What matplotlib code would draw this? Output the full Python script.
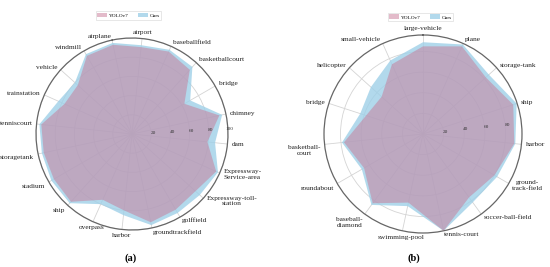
import numpy as np
import matplotlib
matplotlib.use("Agg")
import matplotlib.pyplot as plt
from matplotlib.patches import Patch

plt.rcParams['font.family'] = ['Liberation Serif', 'DejaVu Serif']

# ---------------- data ----------------
cats_a = ['airplane', 'airport', 'baseballfield', 'basketballcourt', 'bridge',
          'chimney', 'dam', 'Expressway-\nService-area', 'Expressway-toll-\nstation',
          'golffield', 'groundtrackfield', 'harbor', 'overpass', 'ship', 'stadium',
          'storagetank', 'tenniscourt', 'trainstation', 'vehicle', 'windmill']
yolo_a = [95, 91, 94, 90, 63, 93, 79, 96, 89, 91, 94, 80, 75, 95, 94, 94, 95, 77, 76, 94]
ours_a = [97, 93, 96, 94, 70, 96, 87, 98, 95, 95, 97, 85, 80, 97, 97, 96, 97, 84, 80, 96]

cats_b = ['large-vehicle', 'plane', 'storage-tank', 'ship', 'harbor',
          'ground-\ntrack-field', 'soccer-ball-field', 'tennis-court', 'swimming-pool',
          'baseball-\ndiamond', 'roundabout', 'basketball-\ncourt', 'bridge',
          'helicopter', 'small-vehicle']
yolo_b = [85, 93, 82, 92, 89, 80, 76, 96, 68, 83, 66, 77, 58, 54, 74]
ours_b = [89, 95, 86, 95.5, 90, 83, 82, 96, 71.5, 85, 68.5, 79, 64, 68, 78]

rticks_a = [20, 40, 60, 80, 100]
rticks_b = [20, 40, 60, 80]
series_names = ['YOLOv7', 'Ours']
panel_labels = ['(a)', '(b)']

# ---------------- style ----------------
PINK = '#c87896'
BLUE = '#9fd0e8'
PINK_A = 0.5
BLUE_A = 0.8
DPI = 100
fig = plt.figure(figsize=(5.5, 2.67), dpi=DPI)


def radar(rect, cats, yolo, ours, rmax, rticks, offset_deg, rlabel_deg):
    ax = fig.add_axes(rect, projection='polar')
    n = len(cats)
    ang = np.arange(n) * 2 * np.pi / n
    ax.set_theta_offset(np.deg2rad(offset_deg))
    ax.set_theta_direction(-1)
    ax.set_ylim(0, rmax)
    angc = np.append(ang, ang[0])
    o = np.append(ours, ours[0])
    y = np.append(yolo, yolo[0])
    ax.fill(angc, o, color=BLUE, alpha=BLUE_A, lw=0, zorder=2)
    ax.fill(angc, y, color=PINK, alpha=PINK_A, lw=0, zorder=3)
    ax.set_xticks(ang)
    ax.set_xticklabels([])
    ax.set_yticks(rticks)
    ax.set_yticklabels([])
    th = np.deg2rad(rlabel_deg)
    for t in rticks:
        ax.text(th, t + rmax * 0.02, str(t), fontsize=3.8, color='#333333',
                ha='center', va='center', zorder=10)
    ax.grid(True, color='#d4d4d4', lw=0.6)
    ax.spines['polar'].set_color('#666666')
    ax.spines['polar'].set_linewidth(0.9)
    return ax, ang


def place_labels(ax, ang, cats, rmax, pad_px=4.0, fs=5.3):
    fig.canvas.draw()
    c0 = ax.transData.transform((0, 0))
    for a, lab in zip(ang, cats):
        p = ax.transData.transform((a, rmax))
        d = p - c0
        u = d / np.hypot(*d)
        cs, sn = u
        if sn < -0.9 and cs <= 0.05:
            ha, va = 'center', 'top'
        elif abs(cs) < 0.15:
            ha, va = 'center', ('bottom' if sn > 0 else 'top')
        else:
            ha = 'left' if cs > 0 else 'right'
            va = 'top' if (cs < 0 and sn < -0.1) else 'center'
        off = u * pad_px * 72 / DPI
        ax.annotate(lab, xy=(a, rmax), xycoords='data', xytext=(off[0], off[1]),
                    textcoords='offset points', fontsize=fs, ha=ha, va=va,
                    multialignment='center', color='#222222', annotation_clip=False)


ax1, ang1 = radar([36 / 550, 37 / 267, 192 / 550, 192 / 267], cats_a, yolo_a, ours_a,
                  100, rticks_a, 102, 99)
ax2, ang2 = radar([324 / 550, 34 / 267, 198 / 550, 198 / 267], cats_b, yolo_b, ours_b,
                  96, rticks_b, 90, 84)
place_labels(ax1, ang1, cats_a, 100)
place_labels(ax2, ang2, cats_b, 96)

handles = [Patch(facecolor=PINK, alpha=PINK_A, edgecolor='none'),
           Patch(facecolor=BLUE, alpha=BLUE_A, edgecolor='none')]
for cx, cy in [(128.5, 15.5), (420.5, 17)]:
    leg = fig.legend(handles, series_names, loc='center',
                     bbox_to_anchor=(cx / 550, 1 - cy / 267), ncol=2, fontsize=3.8,
                     handlelength=1.8, handleheight=0.9, columnspacing=1.8,
                     handletextpad=0.35, borderpad=0.35, fancybox=False,
                     edgecolor='#dddddd', framealpha=1)
    leg.get_frame().set_linewidth(0.5)

fig.text(131 / 550, 1 - 258 / 267, panel_labels[0], fontsize=7.5, fontweight='bold',
         ha='center', va='center')
fig.text(414 / 550, 1 - 258 / 267, panel_labels[1], fontsize=7.5, fontweight='bold',
         ha='center', va='center')

fig.savefig('out.png', dpi=DPI)
